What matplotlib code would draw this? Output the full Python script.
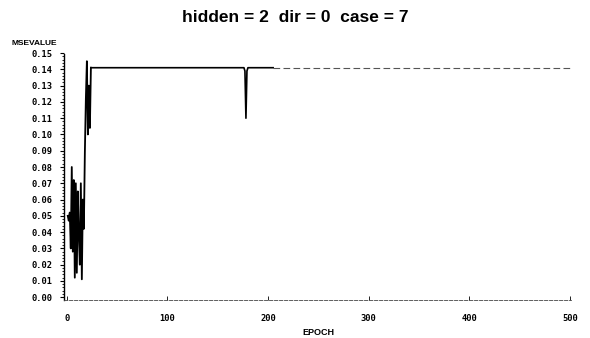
import matplotlib.pyplot as plt

# early training epochs (oscillating MSE)
early_epoch = [1, 2, 3, 4, 5, 6, 7, 8, 9, 10, 11, 12, 13, 14, 15, 16, 17, 18,
               19, 20, 21, 22, 23, 24]
early_mse = [0.050, 0.047, 0.052, 0.030, 0.080, 0.028, 0.072, 0.012, 0.070,
             0.015, 0.065, 0.038, 0.020, 0.070, 0.011, 0.060, 0.042, 0.089,
             0.122, 0.145, 0.100, 0.130, 0.104, 0.141]

# flat part with a single dip
flat_epoch = [24, 176, 177, 178, 179, 180, 205]
flat_mse = [0.141, 0.141, 0.139, 0.110, 0.139, 0.141, 0.141]

tail_epoch = [205, 500]
tail_mse = [0.141, 0.141]

yticks = [i / 100 for i in range(16)]
xticks = [0, 100, 200, 300, 400, 500]

plt.rcParams['font.family'] = ['Liberation Sans', 'DejaVu Sans']
fig = plt.figure(figsize=(5.9, 3.38), dpi=100)
ax = fig.add_axes([0.108, 0.112, 0.86, 0.731])

ax.plot(early_epoch, early_mse, color='black', lw=1.3)
ax.plot(flat_epoch, flat_mse, color='black', lw=1.2)
ax.plot(tail_epoch, tail_mse, color='#555555', lw=0.8, ls=(0, (6, 3)))

ax.set_xlim(-3, 501)
ax.set_ylim(-0.0018, 0.15)
ax.set_yticks(yticks)
ax.set_yticklabels(['0.%02d' % round(v * 100) for v in yticks],
                   fontsize=6.3, fontweight='bold', family='DejaVu Sans Mono')
ax.set_yticks([i / 500 for i in range(76)], minor=True)
ax.set_xticks(xticks)
ax.set_xticklabels([str(v) for v in xticks], fontsize=6.3, fontweight='bold',
                   family='DejaVu Sans Mono')
ax.tick_params(axis='y', which='major', direction='out', length=3, width=0.8,
               pad=5)
ax.tick_params(axis='y', which='minor', direction='out', length=1.5, width=0.6)
ax.tick_params(axis='x', direction='in', length=3, width=0.6, pad=10)

for s in ['top', 'right']:
    ax.spines[s].set_visible(False)
ax.spines['left'].set_linestyle((0, (1, 1)))
ax.spines['left'].set_linewidth(1.0)
ax.spines['bottom'].set_linestyle((0, (4, 2)))
ax.spines['bottom'].set_linewidth(0.6)
ax.spines['bottom'].set_color('#444444')

fig.text(0.5, 0.948, 'hidden = 2  dir = 0  case = 7', ha='center',
         va='center', fontsize=12.5, fontweight='bold')
fig.text(0.02, 0.872, 'MSEVALUE', ha='left', va='center', fontsize=6,
         fontweight='bold')
fig.text(0.539, 0.003, 'EPOCH', ha='center', va='bottom', fontsize=6.5,
         fontweight='bold')

fig.savefig('out.png', dpi=100)
